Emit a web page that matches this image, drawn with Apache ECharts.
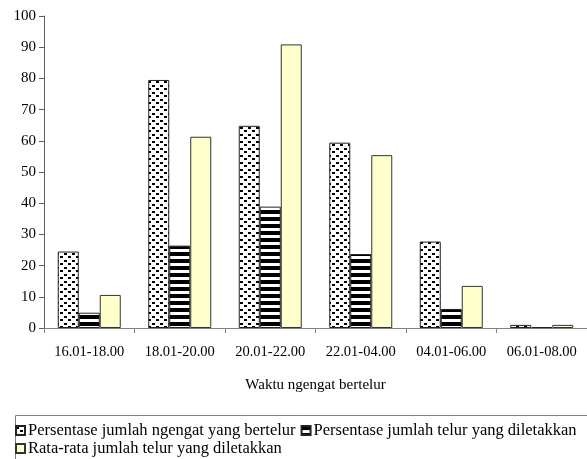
<!DOCTYPE html>
<html>
<head>
<meta charset="utf-8">
<script src="https://cdn.jsdelivr.net/npm/echarts@6/dist/echarts.min.js"></script>
<style>
  html, body { margin: 0; padding: 0; background: #fff; }
  #chart { width: 587px; height: 459px; }
</style>
</head>
<body>
<div id="chart"></div>
<script>
// Time windows of egg laying
const categories = ['16.01-18.00', '18.01-20.00', '20.01-22.00', '22.01-04.00', '04.01-06.00', '06.01-08.00'];
// Percentage of moths that laid eggs
const pctMothsLaying = [24.5, 79.5, 64.8, 59.4, 27.7, 1.0];
// Percentage of eggs laid
const pctEggsLaid = [4.9, 26.4, 38.9, 23.7, 6.1, 0.3];
// Average number of eggs laid
const avgEggsLaid = [10.6, 61.3, 90.9, 55.4, 13.5, 1.0];
const yTicks = { min: 0, max: 100, interval: 10 };

const seriesNames = [
  'Persentase jumlah ngengat yang bertelur',
  'Persentase jumlah telur yang diletakkan',
  'Rata-rata jumlah telur yang diletakkan'
];

const FONT = '"Liberation Serif", "DejaVu Serif", serif';

// Staggered dash fill
function dashPattern() {
  const c = document.createElement('canvas');
  c.width = 8; c.height = 7;
  const g = c.getContext('2d');
  g.fillStyle = '#fff'; g.fillRect(0, 0, 8, 7);
  g.fillStyle = '#000';
  g.fillRect(0, 1, 3, 2);
  g.fillRect(4, 4, 3, 2);
  return c;
}
// Horizontal stripe fill
function stripePattern() {
  const c = document.createElement('canvas');
  c.width = 4; c.height = 7;
  const g = c.getContext('2d');
  g.fillStyle = '#fff'; g.fillRect(0, 0, 4, 7);
  g.fillStyle = '#000';
  g.fillRect(0, 0, 4, 4);
  return c;
}

const chart = echarts.init(document.getElementById('chart'), null, { renderer: 'canvas' });

const barCommon = {
  type: 'bar',
  barWidth: 21,
  barGap: '0%',
  emphasis: { disabled: true }
};

const legendText = { fontFamily: FONT, fontSize: 16.5, color: '#000', padding: [0, 0, 0, -2] };

chart.setOption({
  animation: false,
  textStyle: { fontFamily: FONT },
  grid: { left: 44, top: 16, bottom: 131, right: -10, containLabel: false },
  legend: [
    {
      data: [seriesNames[0], seriesNames[1]],
      left: 15, top: 422,
      orient: 'horizontal',
      icon: 'rect',
      itemWidth: 9, itemHeight: 9, itemGap: 5,
      padding: 0,
      textStyle: legendText
    },
    {
      data: [seriesNames[2]],
      left: 15, top: 440,
      orient: 'horizontal',
      icon: 'rect',
      itemWidth: 9, itemHeight: 9,
      padding: 0,
      textStyle: legendText
    }
  ],
  graphic: [
    {
      type: 'rect',
      left: 13, top: 413,
      shape: { width: 590, height: 46 },
      style: { fill: 'none', stroke: '#808080', lineWidth: 1 },
      silent: true,
      z: -1
    }
  ],
  xAxis: {
    type: 'category',
    data: categories,
    name: 'Waktu ngengat bertelur',
    nameLocation: 'middle',
    nameGap: 50,
    nameTextStyle: { fontFamily: FONT, fontSize: 15, color: '#000' },
    axisLine: { lineStyle: { color: '#808080', width: 1 } },
    axisTick: { show: true, length: 5, lineStyle: { color: '#808080' } },
    axisLabel: { interval: 0, hideOverlap: false, fontFamily: FONT, fontSize: 14.5, color: '#000', margin: 17 },
    splitLine: { show: false }
  },
  yAxis: {
    type: 'value',
    min: yTicks.min, max: yTicks.max, interval: yTicks.interval,
    axisLine: { show: true, lineStyle: { color: '#606060', width: 1 } },
    axisTick: { show: true, length: 5, lineStyle: { color: '#606060' } },
    axisLabel: { fontFamily: FONT, fontSize: 15, color: '#000', margin: 8 },
    splitLine: { show: false }
  },
  series: [
    Object.assign({}, barCommon, {
      name: seriesNames[0],
      data: pctMothsLaying,
      itemStyle: { color: { image: dashPattern(), repeat: 'repeat' }, borderColor: '#222', borderWidth: 1 }
    }),
    Object.assign({}, barCommon, {
      name: seriesNames[1],
      data: pctEggsLaid,
      itemStyle: { color: { image: stripePattern(), repeat: 'repeat' }, borderColor: '#222', borderWidth: 1 }
    }),
    Object.assign({}, barCommon, {
      name: seriesNames[2],
      data: avgEggsLaid,
      itemStyle: { color: '#FFFFCC', borderColor: '#333', borderWidth: 1 }
    })
  ]
});
</script>
</body>
</html>
